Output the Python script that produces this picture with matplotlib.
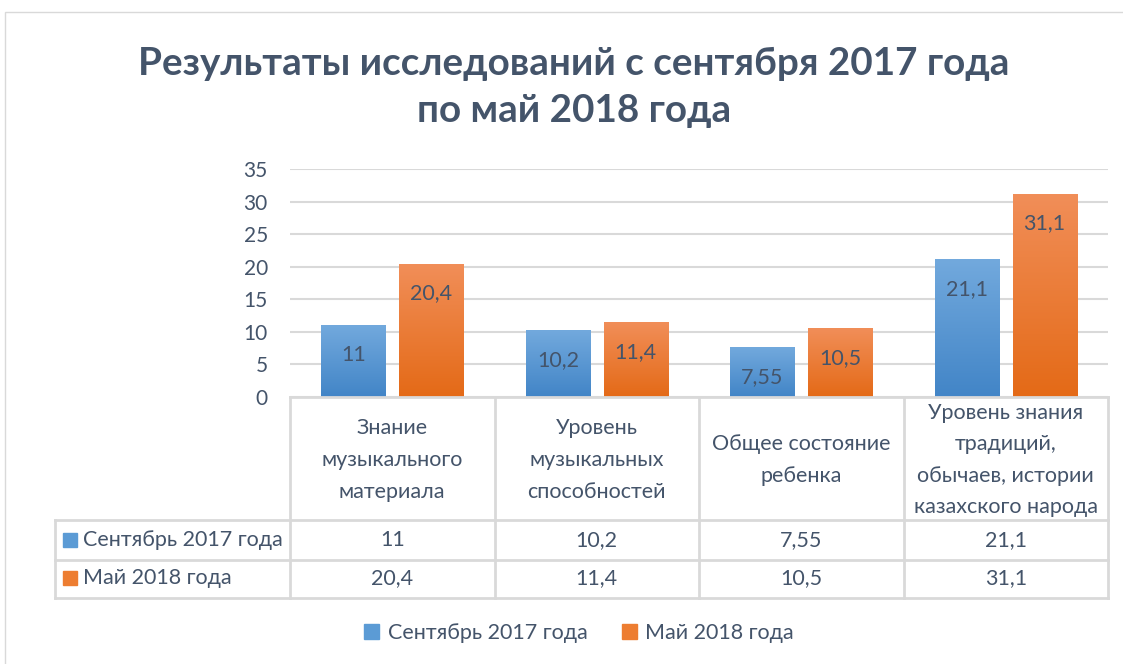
import matplotlib.pyplot as plt
import numpy as np
from matplotlib.colors import LinearSegmentedColormap
from matplotlib.patches import Rectangle

categories = ["Знание\nмузыкального\nматериала",
              "Уровень\nмузыкальных\nспособностей",
              "Общее состояние\nребенка",
              "Уровень знания\nтрадиций,\nобычаев, истории\nказахского народа"]
series_names = ["Сентябрь 2017 года", "Май 2018 года"]
sep_2017 = [11, 10.2, 7.55, 21.1]
may_2018 = [20.4, 11.4, 10.5, 31.1]
title = "Результаты исследований с сентября 2017 года\nпо май 2018 года"

W, H = 1123, 664
txt = "#44546A"
grid_c = "#D9D9D9"
fam = ["Lato", "DejaVu Sans"]
grads = [("#72A9DD", "#4285C7"), ("#F18E58", "#E46A17")]
solid = ["#5B9BD5", "#ED7D31"]

def fmt(v):
    return ("%g" % v).replace(".", ",")

def px(x0, y0, x1, y1):
    # pixel box (top-left origin) -> figure rect
    return [x0 / W, 1 - y1 / H, (x1 - x0) / W, (y1 - y0) / H]

plt.rcParams['font.family'] = fam
fig = plt.figure(figsize=(W / 100, H / 100), dpi=100)
fig.patches.append(Rectangle((5 / W, -0.1), 1.2, 1 - 12 / H + 0.1, transform=fig.transFigure,
                             fill=False, edgecolor=grid_c, lw=1))

fig.text(574 / W, 1 - 87 / H, title, ha="center", va="center", fontsize=27.8,
         fontweight="bold", color=txt, linespacing=1.42)

# bar area
ax = fig.add_axes(px(290, 169, 1108, 397))
x = np.arange(len(categories))
off, bw = 0.19, 0.313
for k, vals in enumerate([sep_2017, may_2018]):
    bars = ax.bar(x + (2 * k - 1) * off, vals, bw, color=solid[k], zorder=2)
    cmap = LinearSegmentedColormap.from_list("g%d" % k, [grads[k][1], grads[k][0]])
    for b, v in zip(bars, vals):
        ax.imshow(np.linspace(0, 1, 100).reshape(-1, 1), cmap=cmap, origin="lower",
                  extent=[b.get_x(), b.get_x() + b.get_width(), 0, b.get_height()],
                  aspect="auto", zorder=3)
        ax.annotate(fmt(v), (b.get_x() + b.get_width() / 2, v), xytext=(0, -21),
                    textcoords="offset points", ha="center", va="center",
                    fontsize=15.5, color=txt, zorder=4)
ax.set_xlim(-0.5, 3.5)
ax.set_ylim(0, 35)
ax.set_yticks(range(0, 36, 5))
ax.set_xticks([])
ax.tick_params(axis="y", length=0, pad=16, labelsize=15, labelcolor=txt)
ax.yaxis.grid(True, color=grid_c, lw=1.5, zorder=0)
for s in ax.spines.values():
    s.set_visible(False)

# data table
tax = fig.add_axes(px(55, 397, 1108, 598))
xmin = -0.5 - 235 / 204.5
tax.set_xlim(xmin, 3.5)
tax.set_ylim(598, 397)
tax.axis("off")
lk = dict(color=grid_c, lw=2, clip_on=False)
tax.plot([-0.5, 3.5], [397, 397], **lk)
for yy in [520, 560, 598]:
    tax.plot([xmin, 3.5], [yy, yy], **lk)
for xx in np.arange(-0.5, 3.6, 1):
    tax.plot([xx, xx], [397, 598], **lk)
tax.plot([xmin, xmin], [520, 598], **lk)
for i, c in enumerate(categories):
    tax.text(i, 460, c, ha="center", va="center", fontsize=15.5, color=txt, linespacing=1.72)
for r, (name, vals) in enumerate(zip(series_names, [sep_2017, may_2018])):
    yy = 540 + 38 * r
    tax.add_patch(Rectangle((xmin + 8 / 204.5, yy - 7), 14 / 204.5, 14, color=solid[r]))
    tax.text(xmin + 28 / 204.5, yy, name, ha="left", va="center", fontsize=15.5, color=txt)
    for i, v in enumerate(vals):
        tax.text(i, yy, fmt(v), ha="center", va="center", fontsize=15.5, color=txt)

handles = [Rectangle((0, 0), 1, 1, color=c) for c in solid]
fig.legend(handles, series_names, loc="center", bbox_to_anchor=(579 / W, 1 - 633 / H),
           ncol=2, frameon=False, fontsize=15.5, labelcolor=txt, handlelength=0.7,
           handleheight=0.7, handletextpad=0.4, columnspacing=1.6)

fig.savefig("out.png", dpi=100)
